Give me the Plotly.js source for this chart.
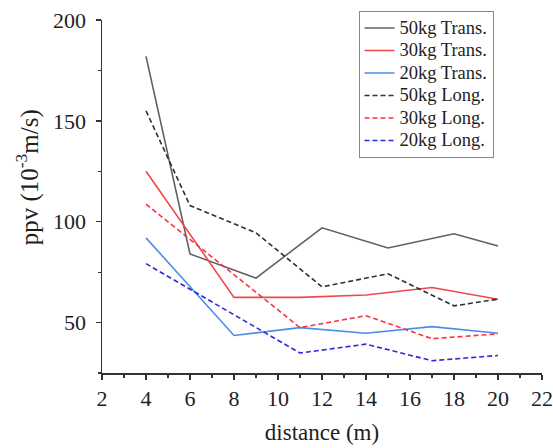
<!DOCTYPE html>
<html>
<head>
<meta charset="utf-8">
<script src="https://cdn.plot.ly/plotly-3.0.1.min.js"></script>
<style>html,body{margin:0;padding:0;background:#fff;}#chart{width:553px;height:448px;}</style>
</head>
<body>
<div id="chart"></div>
<script>
// Data
const names = ["50kg Trans.", "30kg Trans.", "20kg Trans.", "50kg Long.", "30kg Long.", "20kg Long."];
const x50T = [4, 6, 9, 12, 15, 18, 20];
const y50T = [182, 84, 72, 97, 87, 94, 88];
const x30T = [4, 6, 8, 11, 14, 17, 20];
const y30T = [125, 94, 62.5, 62.5, 63.7, 67.4, 61.6];
const x20T = [4, 6, 8, 11, 14, 17, 20];
const y20T = [92, 68, 43.6, 47.5, 44.7, 48, 44.7];
const x50L = [4, 6, 9, 12, 15, 18, 20];
const y50L = [155, 108, 94.5, 67.7, 74.2, 58.3, 61.6];
const x30L = [4, 8, 11, 14, 17, 20];
const y30L = [108.7, 74, 47.5, 53.4, 42, 44.4];
const x20L = [4, 8, 11, 14, 17, 20];
const y20L = [79.2, 54, 34.9, 39.3, 31.1, 33.7];
const xTicks = [2, 4, 6, 8, 10, 12, 14, 16, 18, 20, 22];
const yTicks = [50, 100, 150, 200];

const styles = [
  {color: "#606060", dash: "solid"},
  {color: "#f04848", dash: "solid"},
  {color: "#4a8ee6", dash: "solid"},
  {color: "#303030", dash: "5px,3px"},
  {color: "#ff3040", dash: "5px,3px"},
  {color: "#2a2ad8", dash: "5px,3px"}
];
const xs = [x50T, x30T, x20T, x50L, x30L, x20L];
const ys = [y50T, y30T, y20T, y50L, y30L, y20L];

const traces = names.map((n, i) => ({
  type: "scatter", mode: "lines",
  name: "<span style=\"font-size:18.5px;font-family:Liberation Serif,serif\">" + n + "</span>",
  x: xs[i], y: ys[i],
  line: {color: styles[i].color, dash: styles[i].dash, width: 1.6}
}));

const font = "Liberation Serif, serif";
const txt = "#1e1e1e";
const layout = {
  width: 553, height: 448,
  margin: {l: 101.7, r: 11.3, t: 17.5, b: 75},
  paper_bgcolor: "#fff", plot_bgcolor: "#fff",
  font: {family: font, size: 22, color: txt},
  showlegend: true,
  legend: {
    x: 0.583, y: 1.026, xanchor: "left", yanchor: "top",
    bordercolor: "#888", borderwidth: 1, bgcolor: "#fff",
    font: {family: font, size: 15, color: txt},
    tracegroupgap: 0
  },
  xaxis: {
    range: [2, 22], tickvals: xTicks, ticktext: xTicks.map(String),
    showgrid: false, zeroline: false, showline: true, linecolor: "#333", linewidth: 1.5,
    ticks: "outside", ticklen: 5, tickwidth: 1.5, tickcolor: "#333",
    minor: {dtick: 1, tick0: 2, ticks: "outside", ticklen: 3, tickwidth: 1.2, tickcolor: "#333", showgrid: false},
    tickfont: {family: font, size: 22, color: txt},
    title: {text: "distance (m)", font: {family: font, size: 23, color: txt}, standoff: 14}
  },
  yaxis: {
    range: [25, 200], tickvals: yTicks, ticktext: yTicks.map(String),
    showgrid: false, zeroline: false, showline: true, linecolor: "#333", linewidth: 1.5,
    ticks: "outside", ticklen: 5, tickwidth: 1.5, tickcolor: "#333",
    ticklabelstandoff: 5,
    minor: {dtick: 25, tick0: 25, ticks: "outside", ticklen: 3, tickwidth: 1.2, tickcolor: "#333", showgrid: false},
    tickfont: {family: font, size: 22, color: txt}
  },
  annotations: [{
    xref: "paper", yref: "paper", x: -0.17, y: 0.555, xanchor: "center", yanchor: "middle",
    text: "ppv (10<sup>-3</sup>m/s)", textangle: -90, showarrow: false,
    font: {family: font, size: 25, color: txt}
  }]
};

Plotly.newPlot("chart", traces, layout, {displayModeBar: false, staticPlot: true});
</script>
</body>
</html>
